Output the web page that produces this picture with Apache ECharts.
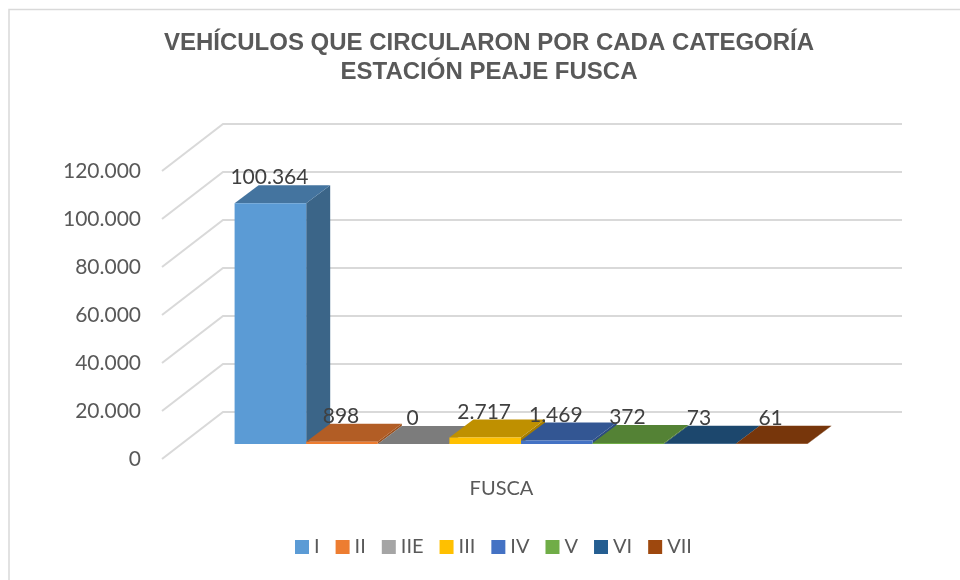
<!DOCTYPE html>
<html>
<head>
<meta charset="utf-8">
<style>html,body{margin:0;padding:0;background:#fff}#c{width:960px;height:580px}</style>
<script src="https://cdn.jsdelivr.net/npm/echarts@6/dist/echarts.min.js"></script>
</head>
<body>
<div id="c"></div>
<script>
const titleText = 'VEHÍCULOS QUE CIRCULARON POR CADA CATEGORÍA\nESTACIÓN PEAJE FUSCA';
const stations = ['FUSCA'];
const categories = ['I', 'II', 'IIE', 'III', 'IV', 'V', 'VI', 'VII'];
const values = [100364, 898, 0, 2717, 1469, 372, 73, 61];
const tickValues = [0, 20000, 40000, 60000, 80000, 100000, 120000];
const frontColors = ['#5B9BD5', '#ED7D31', '#A5A5A5', '#FFC000', '#4472C4', '#70AD47', '#255E91', '#9E480E'];
const topColors = ['#44749F', '#B25D25', '#7C7C7C', '#BF9000', '#335693', '#548235', '#1C476D', '#77360B'];
const sideColors = ['#3B6588', '#9A5120', '#6B6B6B', '#A67D00', '#2C4B80', '#49712E', '#183D5F', '#673009'];

const fmt = v => String(v).replace(/\B(?=(\d{3})+$)/g, '.');

// 3D projection of the chart: wall depth and bar depth placement, in pixels
const WALL_DX = 61, WALL_DY = 47;
const BAR_DX = 19.5, BAR_DY = 15, BAR_DEPTH_X = 24, BAR_DEPTH_Y = 18;
const BAR_SHARE = 71.6 / 679;

function renderWall(params, api) {
  const v = api.value(1);
  const p = api.coord([0, v]);
  const band = api.size([1, 0])[0];
  const x0 = p[0] - band / 2, y0 = p[1];
  return {
    type: 'polyline',
    shape: { points: [[x0, y0], [x0 + WALL_DX, y0 - WALL_DY], [x0 + band + WALL_DX, y0 - WALL_DY]] },
    style: { stroke: '#D9D9D9', lineWidth: 2, fill: null },
    silent: true
  };
}

function makeRender(idx) {
  return function (params, api) {
    const v = api.value(1);
    const top = api.coord([0, v]);
    const base = api.coord([0, 0]);
    const band = api.size([1, 0])[0];
    const w = band * BAR_SHARE;
    const xl = top[0] + BAR_DX + (idx - categories.length / 2) * w;
    const xr = xl + w;
    const yt = top[1] - BAR_DY, yb = base[1] - BAR_DY;
    const dx = BAR_DEPTH_X, dy = BAR_DEPTH_Y;
    return {
      type: 'group',
      children: [
        { type: 'polygon', shape: { points: [[xr, yb], [xr + dx, yb - dy], [xr + dx, yt - dy], [xr, yt]] },
          style: { fill: sideColors[idx] } },
        { type: 'polygon', shape: { points: [[xl, yt], [xl + dx, yt - dy], [xr + dx, yt - dy], [xr, yt]] },
          style: { fill: topColors[idx] } },
        { type: 'rect', shape: { x: xl, y: yt, width: w, height: yb - yt },
          style: { fill: frontColors[idx] } },
        { type: 'text', z2: 100, silent: true,
          style: { text: fmt(v), x: (xl + xr) / 2 - 1, y: yt - 25.5, align: 'center', verticalAlign: 'middle',
                   font: '21px Lato', fill: '#404040' } }
      ]
    };
  };
}

const chart = echarts.init(document.getElementById('c'), null, { renderer: 'canvas' });
chart.setOption({
  animation: false,
  backgroundColor: '#fff',
  title: {
    text: titleText, left: 484, top: 23.5, textAlign: 'center',
    textStyle: { fontFamily: 'Liberation Sans', fontSize: 24, fontWeight: 'bold', color: '#595959', lineHeight: 29 }
  },
  graphic: [{
    type: 'polyline', silent: true, z: -1,
    shape: { points: [[9, 580], [9, 9.5], [960, 9.5]] },
    style: { stroke: '#D9D9D9', lineWidth: 1.5, fill: null }
  }],
  grid: { left: 162, top: 171, width: 679, height: 288, containLabel: false },
  xAxis: {
    type: 'category', data: stations,
    axisLine: { show: false }, axisTick: { show: false }, splitLine: { show: false },
    axisLabel: { margin: 20, fontFamily: 'Lato', fontSize: 20, color: '#595959' }
  },
  yAxis: {
    type: 'value', min: 0, max: 120000, interval: 20000,
    axisLine: { show: false }, axisTick: { show: false }, splitLine: { show: false },
    axisLabel: { margin: 21, padding: [0, 0, 4, 0], fontFamily: 'Lato', fontSize: 21, color: '#595959', formatter: fmt }
  },
  legend: {
    left: 290, top: 532, itemWidth: 14, itemHeight: 14, itemGap: 16, icon: 'rect',
    data: categories,
    textStyle: { fontFamily: 'Lato', fontSize: 20, color: '#595959', padding: [0, 0, 0, 0] }
  },
  series: [
    { type: 'custom', name: 'wall', renderItem: renderWall, clip: false, silent: true,
      encode: { x: 0, y: 1 }, data: tickValues.map(t => [0, t]) }
  ].concat(categories.map((c, i) => ({
    type: 'custom', name: c, renderItem: makeRender(i), clip: false,
    itemStyle: { color: frontColors[i] },
    encode: { x: 0, y: 1 }, data: [[0, values[i]]]
  })))
});
</script>
</body>
</html>
